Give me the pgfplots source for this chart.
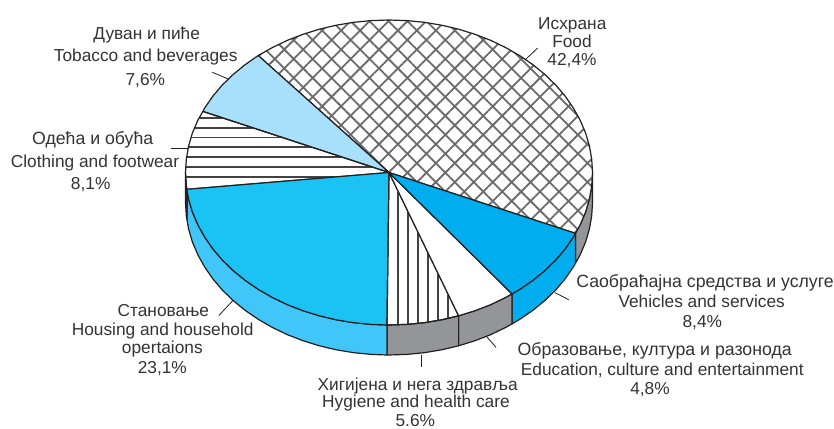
\documentclass[border=0pt]{standalone}
\usepackage{fontspec}
\setmainfont{Liberation Sans}
\usepackage{pgfplots}
\pgfplotsset{compat=1.18}
\usetikzlibrary{patterns.meta}

\definecolor{edge}{HTML}{231F20}
\definecolor{sidegray}{HTML}{939598}
\definecolor{tobacco}{HTML}{A8DFFB}
\definecolor{housing}{HTML}{1BC3F4}
\definecolor{housingside}{HTML}{40C6F8}
\definecolor{vehicles}{HTML}{00AEEF}
\definecolor{labeltext}{HTML}{333333}

\pgfplotsset{
  slice/.style={draw=edge, line width=1.2pt, line join=round},
  stripe/.style={draw=edge!85, line width=1.8pt},
  leader/.style={draw=edge, line width=0.8pt},
}
% labels all get the same box so the lines sit on even baselines
\tikzset{
  lab/.style={font=\fontsize{17.3}{20}\selectfont, text=labeltext, anchor=center, text height=15pt, text depth=2pt, inner sep=0pt},
  labw/.style={lab, font=\fontsize{17.7}{20}\selectfont},
}

\begin{document}
\begin{tikzpicture}
\begin{axis}[
  hide axis, scale only axis,
  width=834pt, height=426pt,
  xmin=0, xmax=834, ymin=0, ymax=426,
  y dir=reverse, clip=false,
]
% page frame
\addplot[draw=none, fill=white] coordinates {(0,0)(834,0)(834,426)(0,426)} -- cycle;

% side walls
\addplot[slice, fill=sidegray] coordinates {(575.4,233.3)(580.2,224.7)(585.6,212)(589.4,199)(591.7,185.8)(592.5,172.5)(592.5,202.5)(591.7,215.8)(589.4,229)(585.6,242)(580.2,254.7)(575.4,263.3)} -- cycle;
\addplot[slice, fill=vehicles] coordinates {(512,293.9)(519.8,289.3)(532.9,280.3)(544.9,270.5)(555.7,260)(565.2,248.8)(573.4,236.9)(575.4,233.3)(575.4,263.3)(573.4,266.9)(565.2,278.8)(555.7,290)(544.9,300.5)(532.9,310.3)(519.8,319.3)(512,323.9)} -- cycle;
\addplot[slice, fill=sidegray] coordinates {(458.6,315.8)(475,310.7)(490.8,304.6)(505.7,297.4)(512,293.9)(512,323.9)(505.7,327.4)(490.8,334.6)(475,340.7)(458.6,345.8)} -- cycle;
\addplot[slice, fill=sidegray] coordinates {(387,325)(389,325)(406.7,324.4)(424.3,322.7)(441.7,319.8)(458.6,315.8)(458.6,345.8)(441.7,349.8)(424.3,352.7)(406.7,354.4)(389,355)(387,355)} -- cycle;
\addplot[slice, fill=housingside] coordinates {(186.9,189.3)(188.6,199)(192.4,212)(197.8,224.7)(204.6,236.9)(212.8,248.8)(222.3,260)(233.1,270.5)(245.1,280.3)(258.2,289.3)(272.3,297.4)(287.2,304.6)(303,310.7)(319.4,315.8)(336.3,319.8)(353.7,322.7)(371.3,324.4)(387,325)(387,355)(371.3,354.4)(353.7,352.7)(336.3,349.8)(319.4,345.8)(303,340.7)(287.2,334.6)(272.3,327.4)(258.2,319.3)(245.1,310.3)(233.1,300.5)(222.3,290)(212.8,278.8)(204.6,266.9)(197.8,254.7)(192.4,242)(188.6,229)(186.9,219.3)} -- cycle;
\addplot[slice, fill=white] coordinates {(185.5,172.5)(186.3,185.8)(186.9,189.3)(186.9,219.3)(186.3,215.8)(185.5,202.5)} -- cycle;

% top faces
% food, 42.4
\addplot[draw=none, fill=white] coordinates {(389,172.5)(575.4,233.3)(580.2,224.7)(585.6,212)(589.4,199)(591.7,185.8)(592.5,172.5)(591.7,159.2)(589.4,146)(585.6,133)(580.2,120.3)(573.4,108.1)(565.2,96.2)(555.7,85)(544.9,74.5)(532.9,64.7)(519.8,55.7)(505.7,47.6)(490.8,40.4)(475,34.3)(458.6,29.2)(441.7,25.2)(424.3,22.3)(406.7,20.6)(389,20)(371.3,20.6)(353.7,22.3)(336.3,25.2)(319.4,29.2)(303,34.3)(287.2,40.4)(272.3,47.6)(258.2,55.5)} -- cycle;
\addplot[slice, pattern={Hatch[angle=45,distance=13.4pt,line width=1.8pt]}, pattern color=black!58] coordinates {(389,172.5)(575.4,233.3)(580.2,224.7)(585.6,212)(589.4,199)(591.7,185.8)(592.5,172.5)(591.7,159.2)(589.4,146)(585.6,133)(580.2,120.3)(573.4,108.1)(565.2,96.2)(555.7,85)(544.9,74.5)(532.9,64.7)(519.8,55.7)(505.7,47.6)(490.8,40.4)(475,34.3)(458.6,29.2)(441.7,25.2)(424.3,22.3)(406.7,20.6)(389,20)(371.3,20.6)(353.7,22.3)(336.3,25.2)(319.4,29.2)(303,34.3)(287.2,40.4)(272.3,47.6)(258.2,55.5)} -- cycle;
% tobacco, 7.6
\addplot[slice, fill=tobacco] coordinates {(389,172.5)(258.2,55.5)(245.1,64.7)(233.1,74.5)(222.3,85)(212.8,96.2)(204.6,108.1)(202.9,111.4)} -- cycle;
% clothing, 8.1
\addplot[stripe] coordinates {(199,117.8)(222.4,117.8)};
\addplot[stripe] coordinates {(194.5,127.7)(252.5,127.7)};
\addplot[stripe] coordinates {(191,137.4)(282.1,137.4)};
\addplot[stripe] coordinates {(188.3,147.3)(312.2,147.3)};
\addplot[stripe] coordinates {(186.6,157)(341.8,157)};
\addplot[stripe] coordinates {(185.6,167.3)(373.2,167.3)};
\addplot[stripe] coordinates {(185.6,177)(334.9,177)};
\addplot[slice] coordinates {(389,172.5)(202.9,111.4)(197.8,120.3)(192.4,133)(188.6,146)(186.3,159.2)(185.5,172.5)(186.3,185.8)(186.9,189.3)} -- cycle;
% housing, 23.1
\addplot[slice, fill=housing] coordinates {(389,172.5)(186.9,189.3)(188.6,199)(192.4,212)(197.8,224.7)(204.6,236.9)(212.8,248.8)(222.3,260)(233.1,270.5)(245.1,280.3)(258.2,289.3)(272.3,297.4)(287.2,304.6)(303,310.7)(319.4,315.8)(336.3,319.8)(353.7,322.7)(371.3,324.4)(387,325)} -- cycle;
% hygiene, 5.6
\addplot[stripe] coordinates {(398.3,191.7)(398.3,324.8)};
\addplot[stripe] coordinates {(408,211.6)(408,324.3)};
\addplot[stripe] coordinates {(418.2,232.6)(418.2,323.4)};
\addplot[stripe] coordinates {(428.3,253.4)(428.3,322.1)};
\addplot[stripe] coordinates {(438.3,274)(438.3,320.5)};
\addplot[stripe] coordinates {(448.3,294.6)(448.3,318.4)};
\addplot[slice] coordinates {(389,172.5)(387,325)(389,325)(406.7,324.4)(424.3,322.7)(441.7,319.8)(458.6,315.8)} -- cycle;
% education, 4.8
\addplot[slice, fill=white] coordinates {(389,172.5)(458.6,315.8)(475,310.7)(490.8,304.6)(505.7,297.4)(512,293.9)} -- cycle;
% vehicles, 8.4
\addplot[slice, fill=vehicles] coordinates {(389,172.5)(512,293.9)(519.8,289.3)(532.9,280.3)(544.9,270.5)(555.7,260)(565.2,248.8)(573.4,236.9)(575.4,233.3)} -- cycle;

% leader lines
\addplot[leader] coordinates {(525.7,59.3)(537.7,48)};
\addplot[leader] coordinates {(212.3,72.3)(228.3,79)};
\addplot[leader] coordinates {(170.7,148.7)(188.3,148.7)};
\addplot[leader] coordinates {(218.7,315.7)(232.7,300.7)};
\addplot[leader] coordinates {(421.7,355)(421.7,367.3)};
\addplot[leader] coordinates {(486.7,336.7)(496,347.3)};
\addplot[leader] coordinates {(555,292.7)(568.7,299.7)};

% labels
\node[lab] at (axis cs:572.3,22.7) {Исхрана};
\node[lab] at (axis cs:572,41.3) {Food};
\node[lab] at (axis cs:572,59) {42,4\%};
\node[lab] at (axis cs:146.7,33.3) {Дуван и пиће};
\node[lab] at (axis cs:145.7,55) {Tobacco and beverages};
\node[lab] at (axis cs:145.3,79.3) {7,6\%};
\node[labw] at (axis cs:92.7,138.3) {Одећа и обућа};
\node[lab] at (axis cs:95,161) {Clothing and footwear};
\node[lab] at (axis cs:90.7,183.3) {8,1\%};
\node[lab] at (axis cs:163.3,310) {Становање};
\node[lab] at (axis cs:162.7,329.3) {Housing and household};
\node[lab] at (axis cs:162.3,347.3) {opertaions};
\node[lab] at (axis cs:162.3,366.7) {23,1\%};
\node[lab] at (axis cs:417.7,384) {Хигијена и нега здравља};
\node[lab] at (axis cs:416,401.3) {Hygiene and health care};
\node[lab] at (axis cs:415.3,420) {5.6\%};
\node[labw] at (axis cs:705,280.7) {Саобраћајна средства и услуге};
\node[lab] at (axis cs:701.7,301.3) {Vehicles and services};
\node[lab] at (axis cs:702.3,321) {8,4\%};
\node[labw] at (axis cs:654.7,349.3) {Образовање, култура и разонода};
\node[lab] at (axis cs:662.3,368.7) {Education, culture and entertainment};
\node[lab] at (axis cs:650,388.3) {4,8\%};
\end{axis}
\end{tikzpicture}
\end{document}
